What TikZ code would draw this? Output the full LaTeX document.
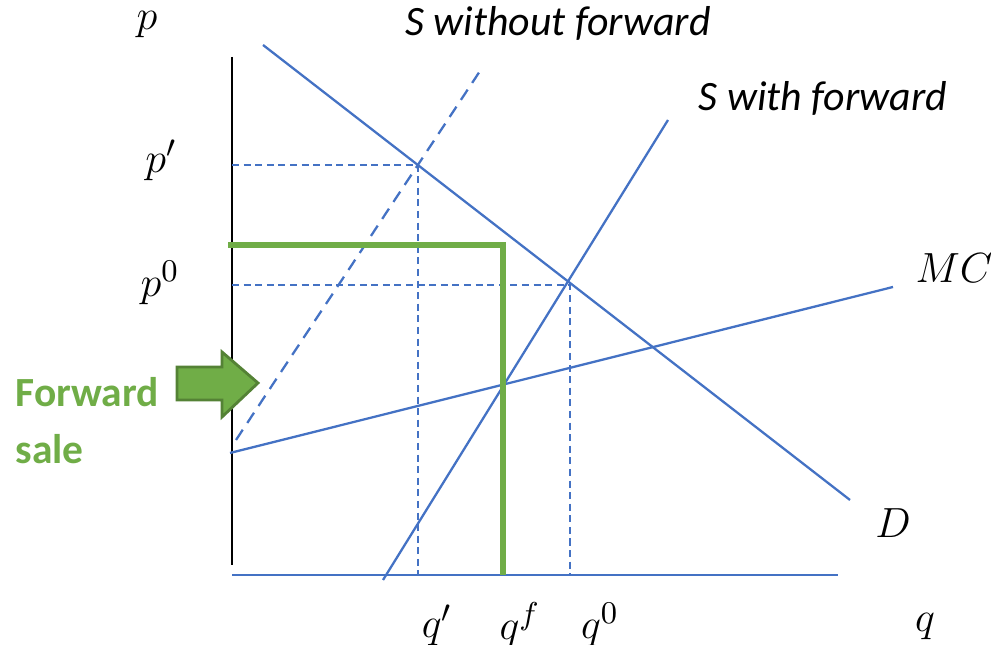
\documentclass[tikz,border=0pt]{standalone}
\usepackage{fontspec}
\newfontfamily\carlito{Carlito}
\usetikzlibrary{positioning,calc}
\definecolor{OffBlue}{RGB}{68,114,196}
\definecolor{OffGreen}{RGB}{112,173,71}
\definecolor{DarkGreen}{RGB}{84,130,53}
\tikzset{
  curve/.style={draw=OffBlue,line width=0.65pt},
  guide/.style={draw=OffBlue,line width=0.6pt,dash pattern=on 2pt off 1.3pt},
  oldsupply/.style={draw=OffBlue,line width=0.65pt,dash pattern=on 3.5pt off 2.3pt},
  contract/.style={draw=OffGreen,line width=1.7pt},
  axislab/.style={inner sep=0pt,font=\fontsize{13}{15}\selectfont},
  curvelab/.style={inner sep=0pt,font=\carlito\itshape\fontsize{11.9}{14}\selectfont},
}
\tikzset{fwd/.style={draw=DarkGreen,fill=OffGreen,line width=0.8pt,line join=miter},
  fwdlab/.style={inner sep=0pt,align=left,text=OffGreen,font=\carlito\bfseries\fontsize{11.8}{16.2}\selectfont}}

\begin{document}
\begin{tikzpicture}
\useasboundingbox (0,0) rectangle (9.910,6.450);
% axes
\coordinate (ytop) at (2.320,5.880);
\coordinate (ybot) at (2.320,0.800);
\coordinate (O) at (2.320,0.700);
\coordinate (xend) at (8.380,0.700);
\draw[black,line width=0.65pt] (ytop)--(ybot);
\draw[curve] (O)--(xend);
% curves
\coordinate (d1) at (2.630,6.000);
\coordinate (d2) at (8.500,1.450);
\coordinate (sw1) at (3.830,0.650);
\coordinate (sw2) at (6.680,5.250);
\coordinate (so1) at (2.360,2.050);
\coordinate (so2) at (4.820,5.770);
\coordinate (mc1) at (2.300,1.920);
\coordinate (mc2) at (8.930,3.580);
\draw[curve] (d1)--(d2);
\draw[curve] (sw1)--(sw2);
\draw[oldsupply] (so1)--(so2);
\draw[curve] (mc1)--(mc2);
% equilibria
\coordinate (e1) at (4.180,4.800);
\coordinate (e0) at (5.700,3.600);
\draw[guide] (e1 -| O)--(e1)--(e1 |- O);
\draw[guide] (e0 -| O)--(e0)--(e0 |- O);
% forward contract
\coordinate (f1) at (2.280,4.000);
\coordinate (f2) at (5.030,4.000);
\draw[contract] (f1)--(f2)--(f2 |- O);
\draw[fwd] (1.770,2.780)--(2.220,2.780)--(2.220,2.930)--(2.580,2.620)--(2.220,2.280)--(2.220,2.450)--(1.770,2.450)--cycle;
\node[fwdlab,anchor=west] (fwdsale) at (0.150,2.240) {Forward\\sale};
% labels
\node[axislab] (plab) at (1.470,6.200) {$p$};
\node[axislab] (p1lab) at (1.610,4.850) {$p'$};
\node[axislab] (p0lab) at (1.600,3.620) {$p^0$};
\node[axislab] (q1lab) at (4.370,0.200) {$q'$};
\node[axislab] (qflab) at (5.200,0.200) {$q^f$};
\node[axislab] (q0lab) at (6.000,0.200) {$q^0$};
\node[axislab] (qlab) at (9.250,0.180) {$q$};
\node[axislab] (dlab) at (8.930,1.220) {$D$};
\node[axislab] (mclab) at (9.540,3.770) {$MC$};
\node[curvelab] (solab) at (5.580,6.220) {S without forward};
\node[curvelab] (swlab) at (8.230,5.470) {S with forward};
\end{tikzpicture}
\end{document}
